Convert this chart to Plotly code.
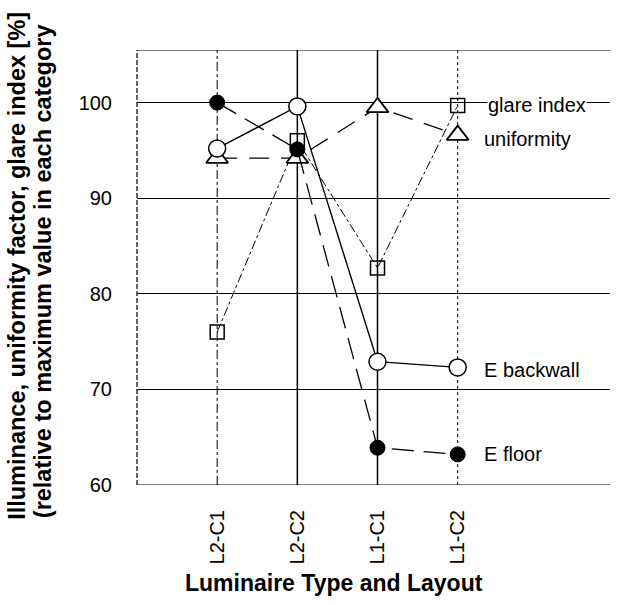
import plotly.graph_objects as go

categories = ["L2-C1", "L2-C2", "L1-C1", "L1-C2"]
e_floor = [100.0, 95.1, 63.9, 63.2]
e_backwall = [95.2, 99.6, 72.9, 72.3]
uniformity = [94.2, 94.2, 99.5, 96.6]
glare_index = [76.0, 96.0, 82.7, 99.7]
y_ticks = [60, 70, 80, 90, 100]

FONT = "Liberation Sans, Arial, Helvetica"
fig = go.Figure()

# vertical guide lines at categories
vstyles = {"L2-C1": ("dashdot", 1), "L2-C2": ("solid", 1.5), "L1-C1": ("solid", 1.5), "L1-C2": ("dot", 1)}
for c in categories:
    d, w = vstyles[c]
    fig.add_shape(type="line", xref="x", yref="y", x0=c, x1=c, y0=60, y1=105.5,
                  line=dict(color="black", width=w, dash=d), layer="below")

fig.add_trace(go.Scatter(x=categories, y=glare_index, mode="lines+markers", name="glare index",
                         line=dict(color="black", width=1, dash="dashdot"),
                         marker=dict(symbol="square-open", size=14, color="black", line=dict(width=1.5))))
fig.add_trace(go.Scatter(x=categories, y=uniformity, mode="lines+markers", name="uniformity",
                         line=dict(color="black", width=1.3, dash="20px,12px"),
                         marker=dict(symbol="triangle-up", size=19, color="white", line=dict(width=1.8, color="black"))))
fig.add_trace(go.Scatter(x=categories, y=e_floor, mode="lines+markers", name="E floor",
                         line=dict(color="black", width=1.3, dash="22px,10px"),
                         marker=dict(symbol="circle", size=15, color="black", line=dict(width=1, color="black"))))
fig.add_trace(go.Scatter(x=categories, y=e_backwall, mode="lines+markers", name="E backwall",
                         line=dict(color="black", width=1.4),
                         marker=dict(symbol="circle", size=17, color="white", line=dict(width=1.5, color="black"))))

# series labels
labels = [("glare index", glare_index[-1], 29), ("uniformity", uniformity[-1] - 0.4, 25),
          ("E backwall", e_backwall[-1] - 0.3, 25), ("E floor", e_floor[-1], 25)]
for txt, yv, xs in labels:
    fig.add_annotation(x=categories[-1], y=yv, xref="x", yref="y", text=txt, showarrow=False,
                       xanchor="left", xshift=xs, bgcolor="white", borderpad=0,
                       font=dict(family=FONT, size=20, color="black"))

# top border, bottom axis, left axis
fig.add_shape(type="line", xref="paper", yref="y", x0=0, x1=1, y0=105.5, y1=105.5,
              line=dict(color="black", width=1.2))
fig.add_shape(type="line", xref="paper", yref="y", x0=0, x1=1, y0=60, y1=60,
              line=dict(color="black", width=1.2))
fig.add_shape(type="line", xref="paper", yref="y", x0=0, x1=0, y0=60, y1=105.5,
              line=dict(color="black", width=1.2, dash="5px,2px"))

# axis titles
fig.add_annotation(xref="paper", yref="paper", x=-0.254, y=-0.085, xanchor="center", yanchor="bottom",
                   text="<b>Illuminance, uniformity factor, glare index [%]</b>",
                   textangle=-90, showarrow=False, font=dict(family=FONT, size=23.5, color="black"))
fig.add_annotation(xref="paper", yref="paper", x=-0.200, y=-0.08, xanchor="center", yanchor="bottom",
                   text="<b>(relative to maximum value in each category</b>",
                   textangle=-90, showarrow=False, font=dict(family=FONT, size=23.5, color="black"))
fig.add_annotation(xref="paper", yref="paper", x=0.4165, y=-0.225, xanchor="center", yanchor="middle",
                   text="<b>Luminaire Type and Layout</b>",
                   showarrow=False, font=dict(family=FONT, size=23, color="black"))

fig.update_layout(
    width=622, height=605,
    margin=dict(l=137, r=12, t=50, b=120),
    paper_bgcolor="white", plot_bgcolor="white",
    showlegend=False,
    font=dict(family=FONT, color="black"),
    xaxis=dict(type="category", categoryorder="array", categoryarray=categories,
               range=[-1.0, 4.9], showgrid=False, zeroline=False, showline=False,
               tickangle=-90, tickfont=dict(size=20), ticks="", ticklabelstandoff=20),
    yaxis=dict(range=[60, 105.5], tickvals=y_ticks, showgrid=True, gridcolor="black", gridwidth=1,
               zeroline=False, showline=False,
               ticks="", tickfont=dict(size=20), ticklabelstandoff=24),
)

fig.write_html("out.html")
